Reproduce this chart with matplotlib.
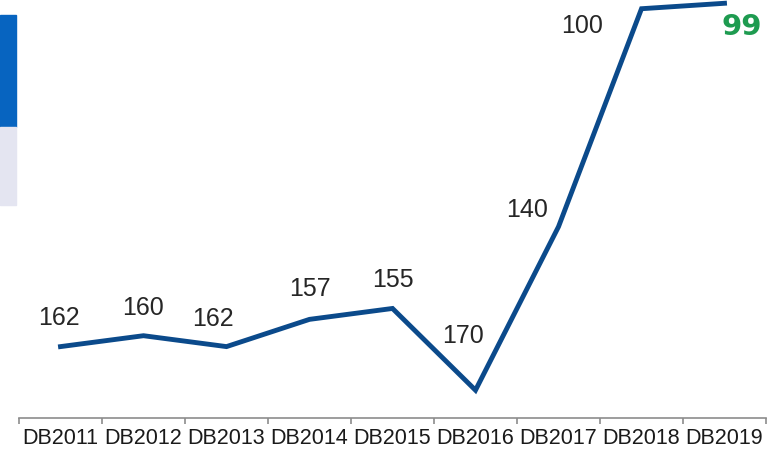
import matplotlib
matplotlib.use('Agg')
import matplotlib.pyplot as plt
from matplotlib.patches import Rectangle
import numpy as np


# ranking per Doing Business report (lower is better, so the y axis is flipped)
years = ['DB2011', 'DB2012', 'DB2013', 'DB2014', 'DB2015',
         'DB2016', 'DB2017', 'DB2018', 'DB2019']
ranks = [162, 160, 162, 157, 155, 170, 140, 100, 99]

# where each value label sits relative to its point (pixels)
label_offsets = [(-2, 29), (0, 28), (-14, 28), (0, 30), (0, 28),
                 (-13, 54), (-31, 17), (-59, -17), (17, -24)]

LINE_COLOR = '#0B4A8B'
GREEN = '#1E9B50'
AXIS_GRAY = '#8C8C8C'


def make_fig_and_axes():

    fig = plt.figure(figsize=(7.76, 4.5), dpi=100)
    ax = fig.add_axes([19 / 776, 32 / 450, 747 / 776, 418 / 450])

    # left side decoration bars cut from the slide
    fig.patches.append(Rectangle((0, 1 - 127 / 450), 16 / 776, 112 / 450,
                                 transform=fig.transFigure, color='#0764C0',
                                 zorder=0))
    fig.patches.append(Rectangle((0, 1 - 205 / 450), 16 / 776, 78 / 450,
                                 transform=fig.transFigure, color='#E4E5F1',
                                 zorder=0))

    return fig, ax


def plot_ranking():

    plt.rcParams['font.family'] = ['Liberation Sans', 'DejaVu Sans']

    fig, ax = make_fig_and_axes()

    x = np.arange(len(years))
    ax.plot(x, ranks, color=LINE_COLOR, lw=3.5, solid_joinstyle='miter',
            clip_on=False)

    for i, (r, off) in enumerate(zip(ranks, label_offsets)):
        if i == len(ranks) - 1:
            ax.annotate(str(r), (x[i], r), xytext=off,
                        textcoords='offset pixels', ha='center', va='center',
                        fontsize=21, fontweight='bold', color=GREEN,
                        family='DejaVu Sans')
        else:
            ax.annotate(str(r), (x[i], r), xytext=off,
                        textcoords='offset pixels', ha='center', va='center',
                        fontsize=18, color='#262626')

    ax.set_xlim(-0.5, len(years) - 0.5)
    ax.set_ylim(175.1, 98.4)

    for side in ['top', 'right', 'left']:
        ax.spines[side].set_visible(False)
    ax.spines['bottom'].set_color(AXIS_GRAY)
    ax.spines['bottom'].set_linewidth(1.2)

    ax.set_yticks([])
    ax.set_xticks(x)
    ax.set_xticklabels(years, fontsize=15.5, color='#1A1A1A')
    ax.tick_params(axis='x', which='major', length=0, pad=7)
    ax.set_xticks(np.arange(len(years) + 1) - 0.5, minor=True)
    ax.tick_params(axis='x', which='minor', length=4, width=1.2,
                   color=AXIS_GRAY, direction='out')

    fig.savefig('out.png', dpi=100)
    plt.close(fig)


if '__main__' == __name__:
    plot_ranking()
